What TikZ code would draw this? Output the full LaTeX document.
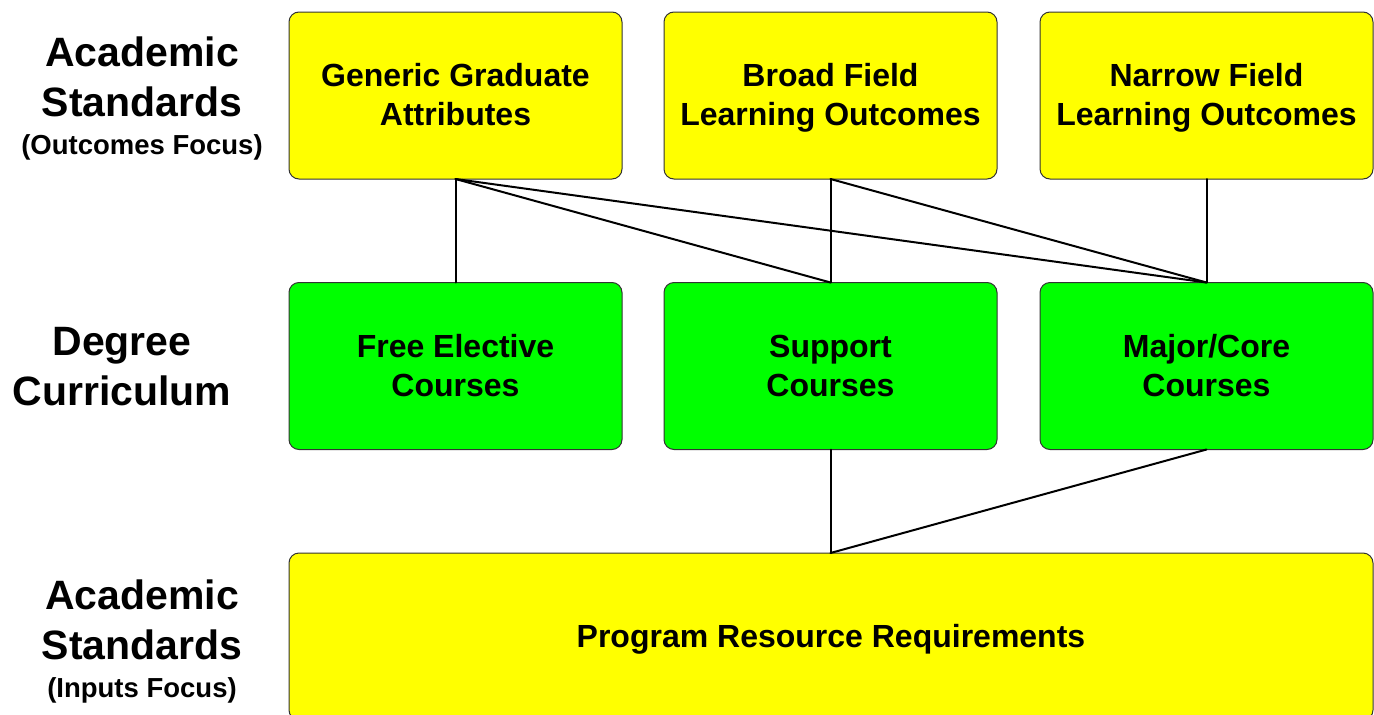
\documentclass[tikz,border=0pt]{standalone}
\usepackage{fontspec}
\setmainfont{Liberation Sans}
\definecolor{boxyellow}{RGB}{255,255,0}
\definecolor{boxgreen}{RGB}{0,255,0}
% uniform line height for box captions
\newcommand\lnstrut{\rule[-9pt]{0pt}{39pt}}
\begin{document}
\begin{tikzpicture}[x=1pt,y=-1pt,
  box/.style={draw=black!80,line width=1pt,rounded corners=10pt,inner sep=0pt,outer sep=0pt,
    minimum width=333pt,minimum height=167pt,align=center,
    font=\fontsize{32}{39}\selectfont\bfseries},
  outcome/.style={box,fill=boxyellow},
  course/.style={box,fill=boxgreen},
  big/.style={anchor=base,inner sep=0pt,font=\fontsize{41}{50}\selectfont\bfseries},
  small/.style={anchor=base,inner sep=0pt,font=\fontsize{27.5}{33}\selectfont\bfseries},
  link/.style={line width=2pt,line cap=round}]
\clip (0,0) rectangle (1374,715);
\fill[white] (0,0) rectangle (1374,715);

% row labels
\node[big]   (l1a) at (142,66)  {Academic};
\node[big]   (l1b) at (142,116) {Standards};
\node[small] (l1c) at (142,154) {(Outcomes Focus)};
\node[big]   (l2a) at (122,355) {Degree};
\node[big]   (l2b) at (122,405) {Curriculum};
\node[big]   (l3a) at (142,609) {Academic};
\node[big]   (l3b) at (142,659) {Standards};
\node[small] (l3c) at (142,697) {(Inputs Focus)};

% outcomes
\node[outcome] (gga) at (455.5,95.5)  {\lnstrut Generic Graduate\\\lnstrut Attributes};
\node[outcome] (bfl) at (830.5,95.5)  {\lnstrut Broad Field\\\lnstrut Learning Outcomes};
\node[outcome] (nfl) at (1206.5,95.5) {\lnstrut Narrow Field\\\lnstrut Learning Outcomes};

% courses
\node[course] (fec) at (455.5,366)  {\lnstrut Free Elective\\\lnstrut Courses};
\node[course] (sup) at (830.5,366)  {\lnstrut Support\\\lnstrut Courses};
\node[course] (maj) at (1206.5,366) {\lnstrut Major/Core\\\lnstrut Courses};

% resources
\node[outcome,minimum width=1084pt,minimum height=167pt] (prr) at (831,636.5)
  {\lnstrut Program Resource Requirements};

% links
\draw[link] (gga.south) -- (fec.north);
\draw[link] (gga.south) -- (sup.north);
\draw[link] (gga.south) -- (maj.north);
\draw[link] (bfl.south) -- (sup.north);
\draw[link] (bfl.south) -- (maj.north);
\draw[link] (nfl.south) -- (maj.north);
\draw[link] (sup.south) -- (sup.south |- prr.north);
\draw[link] (maj.south) -- (sup.south |- prr.north);
\end{tikzpicture}
\end{document}
